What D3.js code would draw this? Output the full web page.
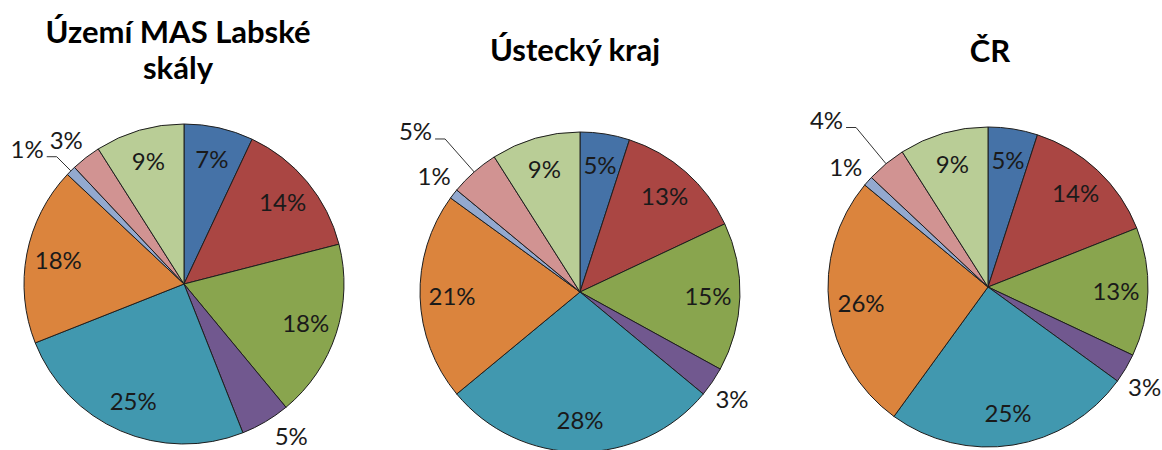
<!DOCTYPE html>
<html>
<head>
<meta charset="utf-8">
<script src="https://cdn.jsdelivr.net/npm/d3@7/dist/d3.min.js"></script>
<style>
  html, body { margin: 0; padding: 0; background: #fff; }
  svg { display: block; }
</style>
</head>
<body>
<svg id="chart" width="1162" height="450"></svg>
<script>
// Category order (clockwise from 12 o'clock) shared by all three pies
const categories = ["A", "B", "C", "D", "E", "F", "G", "H", "I"];

// Shares in percent for each territory
const masValues  = [7, 14, 18, 5, 25, 18, 1, 3, 9];
const ustiValues = [5, 13, 15, 3, 28, 21, 1, 5, 9];
const crValues   = [5, 14, 13, 3, 25, 26, 1, 4, 9];

// Titles (one array entry per line)
const masTitle  = ["Území MAS Labské", "skály"];
const ustiTitle = ["Ústecký kraj"];
const crTitle   = ["ČR"];

// Slice colours
const palette = ["#4572A7", "#AA4643", "#89A54E", "#71588F", "#4198AF",
                 "#DB843D", "#93A9CF", "#D19392", "#B9CD96"];

// Layout per pie: centre, title placement, label placement mode and
// small angular shifts (degrees) for labels that sit outside the pie
const pies = [
  { values: masValues, title: masTitle, cx: 184, cy: 284, tx: 178, ty: 43,
    labelMode: ["in","in","in","out","in","in","leader","out","in"],
    labelShift: [0,0,0,-4.6,0,0,0,-1.5,0], leaderR: 180 },
  { values: ustiValues, title: ustiTitle, cx: 580, cy: 292, tx: 575, ty: 61,
    labelMode: ["in","in","in","out","in","in","out","leader","in"],
    labelShift: [0,0,0,1,0,0,0.5,0,0], leaderR: 204 },
  { values: crValues, title: crTitle, cx: 988, cy: 287, tx: 990, ty: 62,
    labelMode: ["in","in","in","out","in","in","out","leader","in"],
    labelShift: [0,0,0,2,0,0,-1.3,0,0], leaderR: 207 }
];

const R = 160;
const svg = d3.select("#chart");
const color = d3.scaleOrdinal().domain(categories).range(palette);
const pie = d3.pie().sort(null).value(d => d.value);
const arc = d3.arc().innerRadius(0).outerRadius(R);

function polar(angle, r) {
  return [Math.sin(angle) * r, -Math.cos(angle) * r];
}

const fontStack = "Lato, 'Open Sans', sans-serif";

pies.forEach(p => {
  const data = categories.map((c, i) => ({
    cat: c, value: p.values[i], mode: p.labelMode[i], shift: p.labelShift[i]
  }));
  const arcs = pie(data);

  // Title
  const title = svg.append("text")
    .attr("x", p.tx).attr("y", p.ty)
    .attr("text-anchor", "middle")
    .style("font-family", fontStack)
    .style("font-weight", "700")
    .style("font-size", "31px")
    .style("fill", "#000");
  p.title.forEach((line, i) => {
    title.append("tspan").attr("x", p.tx).attr("dy", i === 0 ? 0 : 36).text(line);
  });

  const g = svg.append("g").attr("transform", `translate(${p.cx},${p.cy})`);

  g.selectAll("path.slice")
    .data(arcs)
    .join("path")
    .attr("class", "slice")
    .attr("d", arc)
    .attr("fill", d => color(d.data.cat))
    .attr("stroke", "#1e1e1e")
    .attr("stroke-width", 1)
    .attr("stroke-linejoin", "round");

  const labelStyle = sel => sel
    .style("font-family", fontStack)
    .style("font-size", "24px")
    .style("fill", "#1a1a1a");

  arcs.forEach(d => {
    const mid = (d.startAngle + d.endAngle) / 2;
    const txt = d.data.value + "%";
    if (d.data.mode === "in") {
      const [x, y] = polar(mid, 128);
      g.append("text").attr("x", x).attr("y", y).attr("dy", "0.36em")
        .attr("text-anchor", "middle").text(txt).call(labelStyle);
    } else if (d.data.mode === "out") {
      const a = mid + d.data.shift * Math.PI / 180;
      const [x, y] = polar(a, 186);
      g.append("text").attr("x", x).attr("y", y).attr("dy", "0.36em")
        .attr("text-anchor", "middle").text(txt).call(labelStyle);
    } else {
      const [ex, ey] = polar(mid, R);
      const [bx, by] = polar(mid, p.leaderR);
      const hx = bx - 10;
      g.append("path")
        .attr("d", d3.line()([[ex, ey], [bx, by], [hx, by]]))
        .attr("fill", "none")
        .attr("stroke", "#333")
        .attr("stroke-width", 1);
      g.append("text").attr("x", hx - 3).attr("y", by + 1)
        .attr("text-anchor", "end").text(txt).call(labelStyle);
    }
  });
});
</script>
</body>
</html>
